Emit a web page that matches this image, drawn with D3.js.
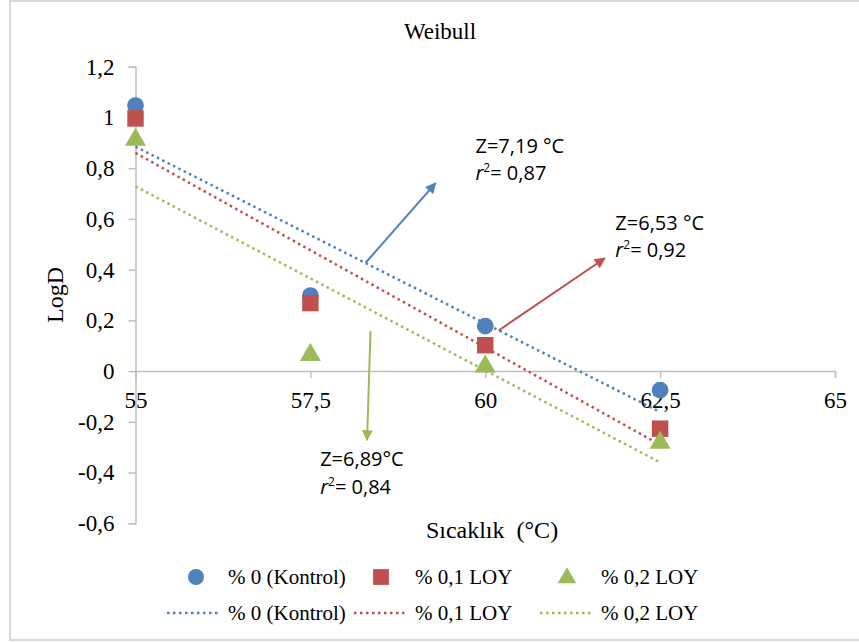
<!DOCTYPE html>
<html>
<head>
<meta charset="utf-8">
<script src="https://cdn.jsdelivr.net/npm/d3@7"></script>
<style>
  html, body { margin: 0; padding: 0; background: #fff; }
  svg { display: block; }
</style>
</head>
<body>
<div id="chart"></div>
<script>
// Temperature levels (°C) and LogD values per treatment
const temperatures = [55, 57.5, 60, 62.5];
const seriesNames = ["% 0 (Kontrol)", "% 0,1 LOY", "% 0,2 LOY"];
const kontrolValues = [1.047, 0.298, 0.177, -0.075];
const loy01Values = [0.996, 0.268, 0.102, -0.227];
const loy02Values = [0.918, 0.070, 0.024, -0.276];
const xTicks = [55, 57.5, 60, 62.5, 65];
const yTicks = [-0.6, -0.4, -0.2, 0, 0.2, 0.4, 0.6, 0.8, 1, 1.2];

// Annotations: z-value text plus an arrow pointing from the trendline
const noteLines = [
  ["Z=7,19 °C", "0,87"],
  ["Z=6,53 °C", "0,92"],
  ["Z=6,89°C", "0,84"]
];
const noteArrowFrom = [[58.29, 0.427], [60.19, 0.160], [58.36, 0.158]];
const noteArrowTo = [[59.29, 0.741], [61.71, 0.445], [58.31, -0.272]];
const noteTextAt = [[59.86, 0.861], [61.86, 0.557], [57.64, -0.375]];

const colors = ["#4f81bd", "#c0504d", "#9bbb59"];
const shapes = [d3.symbolCircle, d3.symbolSquare, d3.symbolTriangle];
const allValues = [kontrolValues, loy01Values, loy02Values];

const W = 859, H = 643;
const svg = d3.select("#chart").append("svg").attr("width", W).attr("height", H);

// outer frame
svg.append("rect").attr("x", 10).attr("y", 1).attr("width", 870).attr("height", 639)
  .attr("fill", "#fff").attr("stroke", "#d9d9d9").attr("stroke-width", 2);

const x = d3.scaleLinear().domain([55, 65]).range([135.5, 835]);
const y = d3.scaleLinear().domain([-0.6, 1.2]).range([523.3, 66.7]);

const serif = "'Liberation Serif', 'Times New Roman', serif";
const sans = "'Open Sans', 'Noto Sans', sans-serif";
const fmt = v => String(v).replace(".", ",");

// title
svg.append("text").attr("x", 440).attr("y", 39).attr("text-anchor", "middle")
  .attr("font-family", serif).attr("font-size", 23).attr("fill", "#000").text("Weibull");

// y axis
const yAxis = d3.axisLeft(y).tickValues(yTicks).tickFormat(fmt).tickSize(7).tickPadding(14);
const gy = svg.append("g").attr("transform", `translate(${x(55)},0)`).call(yAxis);
gy.select(".domain").attr("stroke", "#bfbfbf").attr("stroke-width", 1.5);
gy.selectAll(".tick line").attr("stroke", "#bfbfbf").attr("stroke-width", 1.5);
gy.selectAll(".tick text").attr("font-family", serif).attr("font-size", 23).attr("fill", "#000");

// x axis crossing at LogD = 0
const xAxis = d3.axisBottom(x).tickValues(xTicks).tickFormat(fmt).tickSize(7).tickPadding(14);
const gx = svg.append("g").attr("transform", `translate(0,${y(0)})`).call(xAxis);
gx.select(".domain").attr("stroke", "#bfbfbf").attr("stroke-width", 1.5);
gx.selectAll(".tick line").attr("stroke", "#bfbfbf").attr("stroke-width", 1.5);
gx.selectAll(".tick text").attr("font-family", serif).attr("font-size", 23).attr("fill", "#000");

// axis titles
svg.append("text").attr("transform", `translate(63,${y(0.3)}) rotate(-90)`)
  .attr("text-anchor", "middle").attr("font-family", serif).attr("font-size", 24)
  .attr("fill", "#000").text("LogD");
svg.append("text").attr("x", 492).attr("y", 538).attr("text-anchor", "middle")
  .attr("font-family", serif).attr("font-size", 24).attr("fill", "#000")
  .text("Sıcaklık\u00a0 (°C)");

// least-squares trendline for a series
function fit(vals) {
  const mx = d3.mean(temperatures), my = d3.mean(vals);
  let sxy = 0, sxx = 0;
  temperatures.forEach((t, i) => { sxy += (t - mx) * (vals[i] - my); sxx += (t - mx) ** 2; });
  const b = sxy / sxx;
  return t => my + b * (t - mx);
}

const line = d3.line().x(d => x(d[0])).y(d => y(d[1]));
const tMin = d3.min(temperatures), tMax = d3.max(temperatures);

allValues.forEach((vals, i) => {
  const f = fit(vals);
  svg.append("path").datum([[tMin, f(tMin)], [tMax, f(tMax)]])
    .attr("d", line).attr("fill", "none").attr("stroke", colors[i])
    .attr("stroke-width", 2.5).attr("stroke-dasharray", "2.5,3.5");
});

// markers
allValues.forEach((vals, i) => {
  const sym = d3.symbol().type(shapes[i]).size(i === 2 ? 190 : (i === 0 ? 220 : 270));
  svg.append("g").selectAll("path").data(vals).join("path")
    .attr("d", sym)
    .attr("transform", (d, j) => `translate(${x(temperatures[j])},${y(d) + (i === 2 ? 1.5 : 0)})`)
    .attr("fill", colors[i]);
});

// arrows
const defs = svg.append("defs");
colors.forEach((c, i) => {
  defs.append("marker").attr("id", "arr" + i).attr("viewBox", "0 0 10 10")
    .attr("refX", 9).attr("refY", 5).attr("markerWidth", 6).attr("markerHeight", 5.5)
    .attr("orient", "auto").attr("markerUnits", "strokeWidth")
    .append("path").attr("d", "M0,0 L10,5 L0,10 Z").attr("fill", c);
});
noteArrowFrom.forEach((p, i) => {
  svg.append("line")
    .attr("x1", x(p[0])).attr("y1", y(p[1]))
    .attr("x2", x(noteArrowTo[i][0])).attr("y2", y(noteArrowTo[i][1]))
    .attr("stroke", colors[i]).attr("stroke-width", 2)
    .attr("marker-end", `url(#arr${i})`);
});

// annotation text
noteLines.forEach((ln, i) => {
  const tx = x(noteTextAt[i][0]), ty = y(noteTextAt[i][1]);
  const g = svg.append("g").attr("font-family", sans).attr("font-size", 20).attr("fill", "#000");
  g.append("text").attr("x", tx).attr("y", ty).text(ln[0]);
  const t2 = g.append("text").attr("x", tx).attr("y", ty + 27.5);
  t2.append("tspan").attr("font-style", "italic").text("r");
  t2.append("tspan").attr("font-size", 12).attr("dy", -8).text("2");
  t2.append("tspan").attr("dy", 8).text("= " + ln[1]);
});

// legend
const legX = [196, 381, 567];
const legTextX = [228, 415, 601];
seriesNames.forEach((name, i) => {
  const sym = d3.symbol().type(shapes[i]).size(i === 2 ? 150 : (i === 0 ? 200 : 250));
  svg.append("path").attr("d", sym).attr("transform", `translate(${legX[i]},${577 + (i === 2 ? 1 : 0)})`)
    .attr("fill", colors[i]);
  svg.append("text").attr("x", legTextX[i]).attr("y", 584).attr("font-family", serif)
    .attr("font-size", 21).attr("fill", "#000").text(name);

  svg.append("line").attr("x1", legTextX[i] - 61).attr("x2", legTextX[i] - 10)
    .attr("y1", 613).attr("y2", 613).attr("stroke", colors[i])
    .attr("stroke-width", 2.5).attr("stroke-dasharray", "2.5,3.5");
  svg.append("text").attr("x", legTextX[i]).attr("y", 620).attr("font-family", serif)
    .attr("font-size", 21).attr("fill", "#000").text(name);
});
</script>
</body>
</html>
